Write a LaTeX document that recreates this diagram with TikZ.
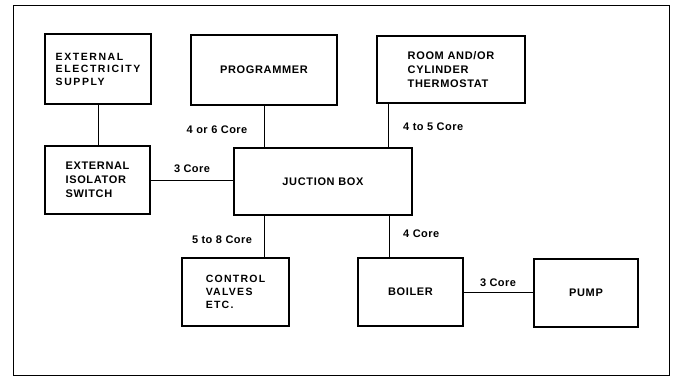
\documentclass[tikz,border=0pt]{standalone}
\usepackage{fontspec}
\setmainfont{Liberation Sans}[LetterSpace=6]
\newfontfamily\corefont{Liberation Sans}[LetterSpace=4]
\newfontfamily\widefont{Liberation Sans}[LetterSpace=15]
\newfontfamily\valvefont{Liberation Sans}[LetterSpace=12]
\usetikzlibrary{positioning}

\begin{document}
\begin{tikzpicture}[x=1pt, y=-1pt, every node/.style={font=\bfseries\fontsize{11}{14}\selectfont}, box/.style={draw, line width=1.4pt, inner sep=0pt, align=left, minimum height=68pt}, wire/.style={line width=1pt}, core/.style={font=\corefont\bfseries\fontsize{11}{13}\selectfont, inner sep=0pt}]
\useasboundingbox (0,0) rectangle (675,378);
\draw[line width=0.9pt] (13,5) rectangle (669,375);
\node[box, minimum width=106pt, minimum height=70pt, font=\widefont\bfseries\fontsize{10.5}{12.5}\selectfont] (supply) at (98,69) {EXTERNAL\\ELECTRICITY\\SUPPLY};
\node[box, minimum width=146pt, minimum height=70pt] (prog) at (264,70) {PROGRAMMER};
\node[box, minimum width=148pt, minimum height=67pt] (stat) at (451,69.5) {ROOM AND/OR\\CYLINDER\\THERMOSTAT};
\node[box, minimum width=105pt] (isol) at (97.5,180) {EXTERNAL\\ISOLATOR\\SWITCH};
\node[box, minimum width=178pt, minimum height=67pt] (junc) at (323,181.5) {JUCTION BOX};
\node[box, minimum width=107pt, font=\valvefont\bfseries\fontsize{10.5}{13}\selectfont] (valve) at (235.5,292) {CONTROL\\VALVES\\ETC.};
\node[box, minimum width=105pt] (boil) at (410.5,292) {BOILER};
\node[box, minimum width=104pt] (pump) at (586,293) {PUMP};
\draw[wire] (supply.south) -- (supply.south |- isol.north);
\draw[wire] (prog.south) -- (prog.south |- junc.north);
\draw[wire] ([xshift=12pt]stat.south west) -- ([xshift=12pt]stat.south west |- junc.north);
\draw[wire] (isol.east) -- (isol.east -| junc.west);
\draw[wire] (prog.south |- junc.south) -- (prog.south |- valve.north);
\draw[wire] ([xshift=-23pt]junc.south east) -- ([xshift=-23pt]junc.south east |- boil.north);
\draw[wire] (boil.east) -- (boil.east -| pump.west);
\node[core] (c46) at (217,130) {4 or 6 Core};
\node[core] (c3a) at (192,169) {3 Core};
\node[core, anchor=west] (c45) at (403,127) {4 to 5 Core};
\node[core] (c58) at (222,240) {5 to 8 Core};
\node[core, anchor=west] (c4) at (403,234) {4 Core};
\node[core] (c3b) at (498,283) {3 Core};
\end{tikzpicture}
\end{document}
